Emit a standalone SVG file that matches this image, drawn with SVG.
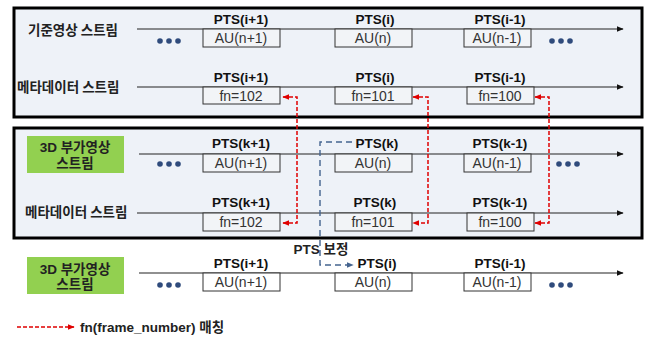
<svg xmlns="http://www.w3.org/2000/svg" width="652" height="337" viewBox="0 0 652 337">
<defs>
<style>
.panel{fill:#eef2f8;stroke:#000;stroke-width:3}
.axis{stroke:#222;stroke-width:1.2;fill:none}
.au{fill:#f2f4f7;stroke:#333;stroke-width:1}
.au2{fill:#fff;stroke:#333;stroke-width:1}
.green{fill:#92d050}
.pts{font-family:"Liberation Sans","Noto Sans CJK KR",sans-serif;font-size:13.5px;font-weight:bold;fill:#111;text-anchor:middle}
.unit{font-family:"Liberation Sans","Noto Sans CJK KR",sans-serif;font-size:14px;fill:#333;text-anchor:middle}
.kr{font-family:"Noto Sans CJK KR",sans-serif;font-size:13.5px;font-weight:bold;fill:#222}
.grn{font-family:"Liberation Sans","Noto Sans CJK KR",sans-serif;font-size:13.5px;font-weight:bold;fill:#222;text-anchor:middle}
.dot{fill:#2f4b7c}
.red{stroke:#e00000;stroke-width:1.5;stroke-dasharray:4,2;fill:none}
.blue{stroke:#44648f;stroke-width:1.4;stroke-dasharray:6,4;fill:none}
</style>
<marker id="ah" viewBox="0 0 10 10" refX="9" refY="5" markerWidth="7" markerHeight="7" markerUnits="userSpaceOnUse" orient="auto"><path d="M0,1 L10,5 L0,9 z" fill="#111"/></marker>
<marker id="rh" viewBox="0 0 10 10" refX="9" refY="5" markerWidth="7" markerHeight="7" markerUnits="userSpaceOnUse" orient="auto-start-reverse"><path d="M0,1 L10,5 L0,9 z" fill="#e00000"/></marker>
<marker id="bh" viewBox="0 0 10 10" refX="9" refY="5" markerWidth="7" markerHeight="7" markerUnits="userSpaceOnUse" orient="auto"><path d="M0,1 L10,5 L0,9 z" fill="#44648f"/></marker>
<g id="dots3"><circle cx="0" cy="0" r="2.8"/><circle cx="9" cy="0" r="2.8"/><circle cx="18" cy="0" r="2.8"/></g>
</defs>

<rect class="panel" x="14" y="8" width="628" height="109"/>
<rect class="panel" x="14" y="128" width="628" height="110"/>

<g id="connectors">
<line class="axis" x1="137" y1="29" x2="623" y2="29" marker-end="url(#ah)"/>
<line class="axis" x1="137" y1="87" x2="623" y2="87" marker-end="url(#ah)"/>
<line class="axis" x1="139" y1="154" x2="623" y2="154" marker-end="url(#ah)"/>
<line class="axis" x1="137" y1="213" x2="623" y2="213" marker-end="url(#ah)"/>
<line class="axis" x1="139" y1="273" x2="623" y2="273" marker-end="url(#ah)"/>
<polyline class="red" points="283,97 297,97 297,223 283,223" marker-start="url(#rh)" marker-end="url(#rh)"/>
<polyline class="red" points="413,97 428,97 428,223 413,223" marker-start="url(#rh)" marker-end="url(#rh)"/>
<polyline class="red" points="535,97 549,97 549,223 535,223" marker-start="url(#rh)" marker-end="url(#rh)"/>
<polyline class="blue" points="352,142 320,142 320,265 353,265" marker-end="url(#bh)"/>
<line class="red" x1="17" y1="327" x2="74" y2="327" marker-end="url(#rh)"/>
</g>

<g id="row1">
<text class="kr" x="28" y="35">기준영상 스트림</text>
<g class="dot"><use href="#dots3" x="160" y="41"/><use href="#dots3" x="552" y="41"/></g>
<text class="pts" x="241" y="24">PTS(i+1)</text>
<rect class="au" x="203" y="29" width="77" height="18"/><text class="unit" x="241" y="43">AU(n+1)</text>
<text class="pts" x="375" y="24">PTS(i)</text>
<rect class="au" x="335" y="29" width="77" height="18"/><text class="unit" x="373" y="43">AU(n)</text>
<text class="pts" x="500" y="24">PTS(i-1)</text>
<rect class="au" x="464" y="29" width="67" height="18"/><text class="unit" x="497" y="43">AU(n-1)</text>
</g>

<g id="row2">
<text class="kr" x="17" y="92">메타데이터 스트림</text>
<text class="pts" x="241" y="82">PTS(i+1)</text>
<rect class="au" x="203" y="87" width="77" height="17"/><text class="unit" x="241" y="101">fn=102</text>
<text class="pts" x="375" y="82">PTS(i)</text>
<rect class="au" x="335" y="87" width="77" height="17"/><text class="unit" x="373" y="101">fn=101</text>
<text class="pts" x="500" y="82">PTS(i-1)</text>
<rect class="au" x="467" y="87" width="67" height="17"/><text class="unit" x="500" y="101">fn=100</text>
</g>

<g id="row3">
<rect class="green" x="27" y="136" width="97" height="37"/>
<text class="grn" x="75" y="152">3D 부가영상</text>
<text class="grn" x="75" y="168">스트림</text>
<g class="dot"><use href="#dots3" x="160" y="164"/><use href="#dots3" x="559" y="164"/></g>
<text class="pts" x="241" y="148">PTS(k+1)</text>
<rect class="au" x="203" y="154" width="77" height="18"/><text class="unit" x="241" y="168">AU(n+1)</text>
<text class="pts" x="377" y="148">PTS(k)</text>
<rect class="au" x="335" y="154" width="77" height="18"/><text class="unit" x="373" y="168">AU(n)</text>
<text class="pts" x="500" y="148">PTS(k-1)</text>
<rect class="au" x="464" y="154" width="67" height="18"/><text class="unit" x="497" y="168">AU(n-1)</text>
</g>

<g id="row4">
<text class="kr" x="25" y="217">메타데이터 스트림</text>
<text class="pts" x="241" y="207">PTS(k+1)</text>
<rect class="au" x="203" y="213" width="77" height="18"/><text class="unit" x="241" y="227">fn=102</text>
<text class="pts" x="375" y="207">PTS(k)</text>
<rect class="au" x="335" y="213" width="77" height="18"/><text class="unit" x="373" y="227">fn=101</text>
<text class="pts" x="500" y="207">PTS(k-1)</text>
<rect class="au" x="467" y="213" width="67" height="18"/><text class="unit" x="500" y="227">fn=100</text>
</g>

<g id="correction">
<text class="grn" x="321" y="254">PTS 보정</text>
</g>

<g id="row5">
<rect class="green" x="27" y="257" width="97" height="37"/>
<text class="grn" x="75" y="274">3D 부가영상</text>
<text class="grn" x="75" y="289">스트림</text>
<g class="dot"><use href="#dots3" x="160" y="285"/><use href="#dots3" x="552" y="285"/></g>
<text class="pts" x="241" y="268">PTS(i+1)</text>
<rect class="au2" x="203" y="273" width="77" height="18"/><text class="unit" x="241" y="287">AU(n+1)</text>
<text class="pts" x="377" y="268">PTS(i)</text>
<rect class="au2" x="335" y="273" width="77" height="18"/><text class="unit" x="373" y="287">AU(n)</text>
<text class="pts" x="500" y="268">PTS(i-1)</text>
<rect class="au2" x="464" y="273" width="67" height="18"/><text class="unit" x="497" y="287">AU(n-1)</text>
</g>

<g id="legend">
<text class="grn" x="80" y="332" style="text-anchor:start">fn(frame_number) 매칭</text>
</g>
</svg>
